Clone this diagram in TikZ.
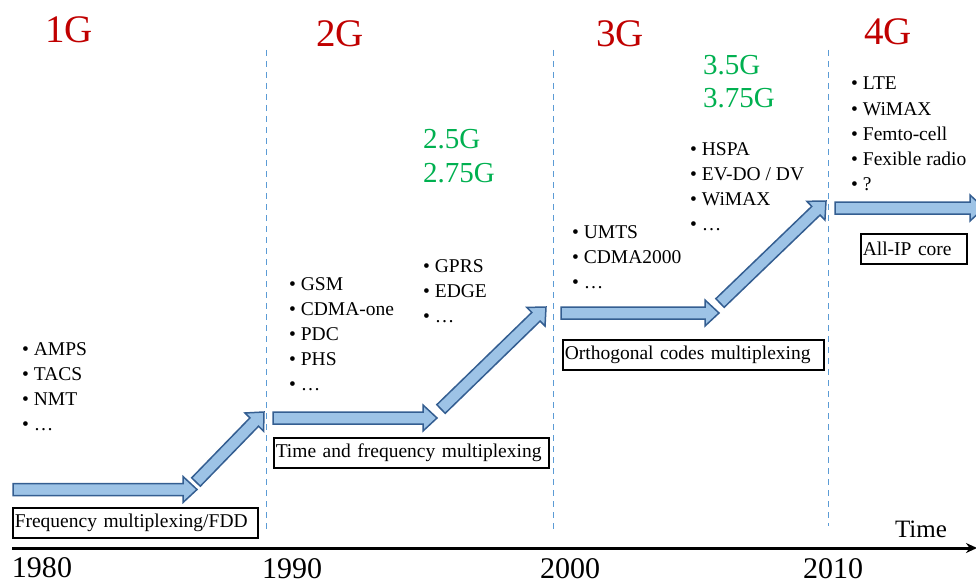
\documentclass[tikz,border=0pt]{standalone}
\usepackage{fontspec}
\setmainfont{Liberation Serif}
\usepackage{tikz}
\usetikzlibrary{arrows.meta,calc}
\definecolor{genred}{RGB}{192, 0, 0}
\definecolor{subgreen}{RGB}{0, 176, 80}
\definecolor{arrowfill}{RGB}{157, 195, 230}
\definecolor{arrowedge}{RGB}{52, 94, 145}
\definecolor{eraline}{RGB}{91, 155, 213}

\tikzset{
  gen/.style={text=genred, font=\fontsize{39}{39}\selectfont, anchor=base, inner sep=0pt},
  sub/.style={text=subgreen, font=\fontsize{29}{34}\selectfont, anchor=base west, inner sep=0pt},
  item/.style={font=\fontsize{19.5}{25}\selectfont, anchor=base west, inner sep=0pt},
  tech/.style={draw, line width=1.5pt, font=\fontsize{19.5}{22}\selectfont, anchor=north west,
    minimum height=30pt, inner xsep=2pt, align=left},
  year/.style={font=\fontsize{30}{30}\selectfont, anchor=base, inner sep=0pt},
  era/.style={eraline, line width=0.8pt, dash pattern=on 6pt off 5pt},
  timeaxis/.style={line width=3pt, -{Stealth[length=11pt, width=10pt]}},
  blockarrow/.style={draw=arrowedge, fill=arrowfill, line width=1.5pt, line join=miter,
    to path={
      ($(\tikztostart)!6pt!90:(\tikztotarget)$)
      -- ($(\tikztotarget)!14pt!(\tikztostart)!6pt!270:(\tikztostart)$)
      -- ($(\tikztotarget)!14pt!(\tikztostart)!13pt!270:(\tikztostart)$)
      -- (\tikztotarget)
      -- ($(\tikztotarget)!14pt!(\tikztostart)!13pt!90:(\tikztostart)$)
      -- ($(\tikztotarget)!14pt!(\tikztostart)!6pt!90:(\tikztostart)$)
      -- ($(\tikztostart)!6pt!270:(\tikztotarget)$)
      -- cycle}}
}

\begin{document}
\begin{tikzpicture}[x=1pt, y=-1pt]
\useasboundingbox (0,0) rectangle (976,583);

% Era borders
\coordinate (e1t) at (266,50);  \coordinate (e1b) at (266,532);
\coordinate (e2t) at (553,50);  \coordinate (e2b) at (553,532);
\coordinate (e3t) at (828,50);  \coordinate (e3b) at (828,526);
\draw[era] (e1t) -- (e1b);
\draw[era] (e2t) -- (e2b);
\draw[era] (e3t) -- (e3b);

% Generations
\node[gen] (g1) at (69,43) {1G};
\node[gen] (g2) at (340,47) {2G};
\node[gen] (g3) at (620,47) {3G};
\node[gen] (g4) at (888,45) {4G};
\node[sub] (g25) at (423,148) {2.5G};
\node[sub] (g275) at (423,182) {2.75G};
\node[sub] (g35) at (703,75) {3.5G};
\node[sub] (g375) at (703,108) {3.75G};

% Systems
\foreach \t [count=\i] in {AMPS,TACS,NMT,…}
  \node[item] (s1-\i) at (22,{355+25*(\i-1)}) {• \t};
\foreach \t [count=\i] in {GSM,CDMA-one,PDC,PHS,…}
  \node[item] (s2-\i) at (289,{290+25*(\i-1)}) {• \t};
\foreach \t [count=\i] in {GPRS,EDGE,…}
  \node[item] (s25-\i) at (423,{272+25*(\i-1)}) {• \t};
\foreach \t [count=\i] in {UMTS,CDMA2000,…}
  \node[item] (s3-\i) at (572,{238+25*(\i-1)}) {• \t};
\foreach \t [count=\i] in {HSPA,EV-DO / DV,WiMAX,…}
  \node[item] (s35-\i) at (690,{155+25*(\i-1)}) {• \t};
\foreach \t [count=\i] in {LTE,WiMAX,Femto-cell,Fexible radio,?}
  \node[item] (s4-\i) at (851,{90+25*(\i-1)}) {• \t};

% Multiplexing techniques
\node[tech, text width=241pt] (m1) at (12,507) {Frequency multiplexing/FDD};
\node[tech, text width=271pt] (m2) at (273,437) {Time and frequency multiplexing};
\node[tech, text width=257pt] (m3) at (562,339) {Orthogonal codes multiplexing};
\node[tech, text width=102pt] (m4) at (860,233) {All-IP core};

% Evolution arrows
\coordinate (a1s) at (13,489.5);  \coordinate (a1e) at (197,489.5);
\coordinate (d1s) at (196,482);   \coordinate (d1e) at (264,412);
\coordinate (a2s) at (273,418);   \coordinate (a2e) at (437,418);
\coordinate (d2s) at (441,409);   \coordinate (d2e) at (546,307);
\coordinate (a3s) at (561,313);   \coordinate (a3e) at (719,313);
\coordinate (d3s) at (720,303);   \coordinate (d3e) at (826,201);
\coordinate (a4s) at (835,208);   \coordinate (a4e) at (984,208);
\draw[blockarrow] (a1s) to (a1e);
\draw[blockarrow] (d1s) to (d1e);
\draw[blockarrow] (a2s) to (a2e);
\draw[blockarrow] (d2s) to (d2e);
\draw[blockarrow] (a3s) to (a3e);
\draw[blockarrow] (d3s) to (d3e);
\draw[blockarrow] (a4s) to (a4e);

% Time axis
\coordinate (t0) at (12,548);
\coordinate (t1) at (977,548);
\draw[timeaxis] (t0) -- (t1);
\node[font=\fontsize{25}{25}\selectfont, anchor=base, inner sep=0pt] (time) at (921,537) {Time};
\node[year] (y1) at (42,577) {1980};
\node[year] (y2) at (292,578) {1990};
\node[year] (y3) at (570,578) {2000};
\node[year] (y4) at (833,578) {2010};
\end{tikzpicture}
\end{document}
